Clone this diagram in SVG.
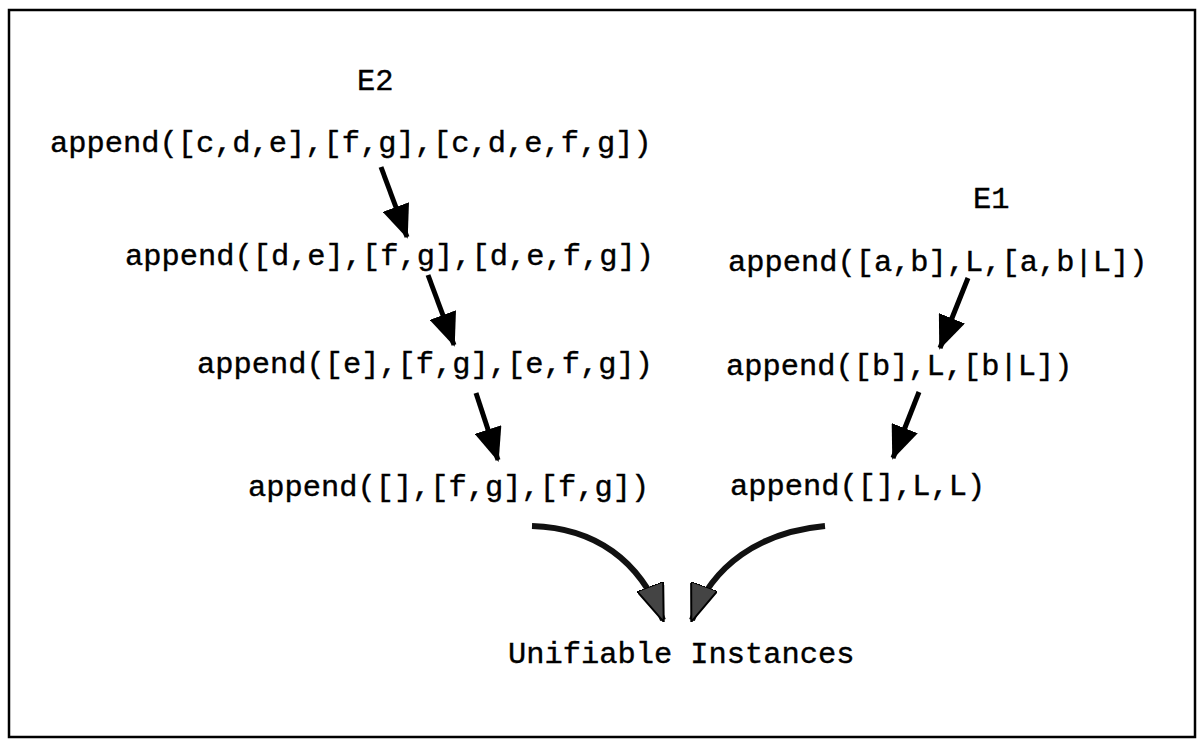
<svg xmlns="http://www.w3.org/2000/svg" width="1197" height="739" viewBox="0 0 1197 739">
<defs>
<style>
text{font-family:"Liberation Mono","Courier New",monospace;font-size:30.4px;fill:#000;stroke:#000;stroke-width:0.4}
.c{stroke:#000;stroke-width:5;fill:none}
.cv{stroke:#111;stroke-width:6;fill:none}
</style>
<marker id="ah" markerUnits="userSpaceOnUse" viewBox="0 0 34 28" refX="32" refY="14" markerWidth="34" markerHeight="28" orient="auto">
<path d="M0,0 L34,14 L0,28 z" fill="#000"/>
</marker>
<marker id="ah2" markerUnits="userSpaceOnUse" viewBox="0 0 38 28" refX="36" refY="14" markerWidth="38" markerHeight="28" orient="auto">
<path d="M0,0 L38,14 L0,28 z" fill="#444" stroke="#000" stroke-width="2"/>
</marker>
</defs>
<rect x="9" y="10" width="1186" height="727" fill="#fff" stroke="#000" stroke-width="2.5"/>
<g id="E2"><text x="357" y="90">E2</text></g>
<g id="n1"><text x="50" y="152">append([c,d,e],[f,g],[c,d,e,f,g])</text></g>
<g id="n2"><text x="125" y="265">append([d,e],[f,g],[d,e,f,g])</text></g>
<g id="n3"><text x="197" y="373">append([e],[f,g],[e,f,g])</text></g>
<g id="n4"><text x="248" y="496">append([],[f,g],[f,g])</text></g>
<g id="E1"><text x="973" y="208">E1</text></g>
<g id="m1"><text x="728" y="271">append([a,b],L,[a,b|L])</text></g>
<g id="m2"><text x="726" y="375">append([b],L,[b|L])</text></g>
<g id="m3"><text x="730" y="495">append([],L,L)</text></g>
<g id="result"><text x="508" y="663">Unifiable Instances</text></g>
<g id="connectors">
<line class="c" x1="381" y1="167" x2="407" y2="237" marker-end="url(#ah)"/>
<line class="c" x1="428" y1="275" x2="454" y2="345" marker-end="url(#ah)"/>
<line class="c" x1="476" y1="393" x2="498" y2="460" marker-end="url(#ah)"/>
<line class="c" x1="968" y1="278" x2="940" y2="348" marker-end="url(#ah)"/>
<line class="c" x1="919" y1="392" x2="893" y2="458" marker-end="url(#ah)"/>
<path class="cv" d="M532,526 C595,528 640,560 663,620" marker-end="url(#ah2)"/>
<path class="cv" d="M825,526 C760,532 712,565 692,620" marker-end="url(#ah2)"/>
</g>
</svg>
